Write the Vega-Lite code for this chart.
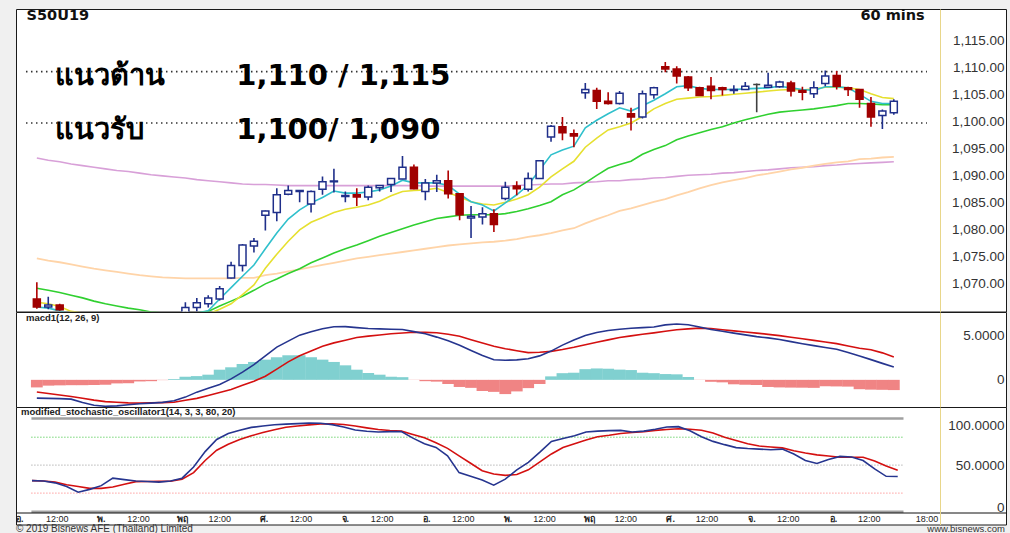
{
  "$schema": "https://vega.github.io/schema/vega-lite/v6.json",
  "background": "#f0f0f0",
  "padding": {"left": 15, "top": 7, "right": 5, "bottom": 0},
  "spacing": 0,
  "bounds": "flush",
  "config": {"view": {"fill": "white", "stroke": "#1a1a1a", "strokeWidth": 1}, "font": "Liberation Sans", "axis": {"labelOverlap": false, "labelSeparation": 0}, "axisY": {"labelOverlap": false}},
  "datasets": {
    "bars": [
      {"i":0,"o":1067.1,"h":1070.2,"l":1065.3,"c":1065.6,"e1":1065.6,"e2":1066.5,"m3":1069.1,"m4":1074.6,"m5":1093.2,"macd":-2.05,"sig":-1.36,"hist":-0.85,"k":33.4,"d":33.4},
      {"i":1,"o":1065.6,"h":1067.5,"l":1065.2,"c":1066.0,"e1":1065.4,"e2":1066.2,"m3":1068.7,"m4":1074.2,"m5":1092.8,"macd":-2.08,"sig":-1.53,"hist":-0.65,"k":33,"d":33},
      {"i":2,"o":1066.0,"h":1066.2,"l":1064.9,"c":1065.1,"e1":1064.9,"e2":1065.7,"m3":1068.3,"m4":1073.9,"m5":1092.5,"macd":-2.11,"sig":-1.70,"hist":-0.62,"k":31,"d":31.8},
      {"i":3,"o":1064.5,"h":1064.6,"l":1063.2,"c":1063.5,"e1":1064.3,"e2":1064.8,"m3":1067.8,"m4":1073.5,"m5":1092.1,"macd":-2.17,"sig":-1.87,"hist":-0.60,"k":27,"d":29},
      {"i":4,"o":1063.5,"h":1064.2,"l":1062.0,"c":1062.5,"e1":1063.9,"e2":1064.5,"m3":1067.3,"m4":1073.1,"m5":1091.8,"macd":-2.55,"sig":-2.07,"hist":-0.60,"k":21,"d":27},
      {"i":5,"o":1062.5,"h":1063.5,"l":1061.8,"c":1063.0,"e1":1063.5,"e2":1064.2,"m3":1066.7,"m4":1072.7,"m5":1091.5,"macd":-2.86,"sig":-2.28,"hist":-0.58,"k":24,"d":25.1},
      {"i":6,"o":1063.0,"h":1063.8,"l":1062.0,"c":1062.4,"e1":1063.2,"e2":1063.9,"m3":1066.2,"m4":1072.4,"m5":1091.2,"macd":-2.97,"sig":-2.45,"hist":-0.55,"k":28,"d":25.1},
      {"i":7,"o":1062.4,"h":1064.0,"l":1062.2,"c":1063.6,"e1":1063.0,"e2":1063.7,"m3":1065.8,"m4":1072.1,"m5":1090.9,"macd":-2.92,"sig":-2.52,"hist":-0.40,"k":36,"d":26.5},
      {"i":8,"o":1063.6,"h":1064.2,"l":1062.8,"c":1063.2,"e1":1063.0,"e2":1063.5,"m3":1065.4,"m4":1071.8,"m5":1090.7,"macd":-2.79,"sig":-2.59,"hist":-0.38,"k":34.5,"d":29.5},
      {"i":9,"o":1063.2,"h":1063.9,"l":1062.6,"c":1063.0,"e1":1063.0,"e2":1063.4,"m3":1065.1,"m4":1071.5,"m5":1090.4,"macd":-2.69,"sig":-2.61,"hist":-0.18,"k":33,"d":32.3},
      {"i":10,"o":1063.0,"h":1063.8,"l":1062.5,"c":1063.4,"e1":1063.1,"e2":1063.3,"m3":1064.7,"m4":1071.3,"m5":1090.1,"macd":-2.61,"sig":-2.58,"hist":-0.15,"k":32.5,"d":32.5},
      {"i":11,"o":1063.4,"h":1064.0,"l":1062.9,"c":1063.2,"e1":1063.1,"e2":1063.3,"m3":1064.5,"m4":1071.1,"m5":1089.9,"macd":-2.53,"sig":-2.56,"hist":-0.03,"k":31.8,"d":32.6},
      {"i":12,"o":1063.2,"h":1064.3,"l":1062.9,"c":1064.0,"e1":1063.3,"e2":1063.4,"m3":1064.4,"m4":1071.0,"m5":1089.7,"macd":-2.35,"sig":-2.52,"hist":0.09,"k":33,"d":32.7},
      {"i":13,"o":1064.0,"h":1066.5,"l":1063.5,"c":1065.5,"e1":1064.2,"e2":1063.6,"m3":1064.4,"m4":1070.9,"m5":1089.5,"macd":-1.94,"sig":-2.29,"hist":0.35,"k":36,"d":35},
      {"i":14,"o":1065.5,"h":1067.3,"l":1064.8,"c":1066.4,"e1":1064.5,"e2":1064.0,"m3":1064.5,"m4":1070.9,"m5":1089.2,"macd":-1.38,"sig":-2.08,"hist":0.42,"k":48,"d":42},
      {"i":15,"o":1066.2,"h":1067.8,"l":1065.5,"c":1067.3,"e1":1064.9,"e2":1064.3,"m3":1064.8,"m4":1070.9,"m5":1089.0,"macd":-0.94,"sig":-1.76,"hist":0.58,"k":64.5,"d":55},
      {"i":16,"o":1067.1,"h":1069.5,"l":1066.8,"c":1069.0,"e1":1067.1,"e2":1065.2,"m3":1065.8,"m4":1070.9,"m5":1088.8,"macd":-0.52,"sig":-1.43,"hist":1.14,"k":77.5,"d":66},
      {"i":17,"o":1071.0,"h":1074.0,"l":1070.9,"c":1073.3,"e1":1069.2,"e2":1066.2,"m3":1066.7,"m4":1070.9,"m5":1088.6,"macd":0.11,"sig":-1.09,"hist":1.41,"k":84,"d":72.5},
      {"i":18,"o":1073.3,"h":1077.3,"l":1072.2,"c":1077.1,"e1":1071.3,"e2":1067.9,"m3":1067.6,"m4":1071.0,"m5":1088.4,"macd":0.86,"sig":-0.62,"hist":1.78,"k":87.5,"d":77.5},
      {"i":19,"o":1076.9,"h":1078.4,"l":1075.7,"c":1077.8,"e1":1073.4,"e2":1069.7,"m3":1068.7,"m4":1071.0,"m5":1088.3,"macd":1.71,"sig":-0.15,"hist":2.01,"k":90.5,"d":81.5},
      {"i":20,"o":1082.6,"h":1083.5,"l":1079.8,"c":1083.4,"e1":1076.4,"e2":1072.8,"m3":1069.9,"m4":1071.5,"m5":1088.3,"macd":2.70,"sig":0.41,"hist":2.27,"k":92,"d":85},
      {"i":21,"o":1083.1,"h":1087.6,"l":1081.5,"c":1086.4,"e1":1079.3,"e2":1075.4,"m3":1070.8,"m4":1071.8,"m5":1088.2,"macd":3.68,"sig":1.21,"hist":2.54,"k":93.4,"d":88},
      {"i":22,"o":1086.5,"h":1088.1,"l":1086.3,"c":1087.2,"e1":1081.9,"e2":1077.8,"m3":1071.8,"m4":1072.2,"m5":1088.1,"macd":4.35,"sig":2.02,"hist":2.76,"k":94,"d":90.6},
      {"i":23,"o":1087.0,"h":1087.2,"l":1085.0,"c":1087.2,"e1":1083.6,"e2":1079.9,"m3":1072.7,"m4":1072.6,"m5":1088.1,"macd":5.02,"sig":2.70,"hist":2.76,"k":94.6,"d":92},
      {"i":24,"o":1084.7,"h":1087.2,"l":1083.1,"c":1087.0,"e1":1084.9,"e2":1081.3,"m3":1073.8,"m4":1073.0,"m5":1088.1,"macd":5.39,"sig":3.24,"hist":2.54,"k":95.1,"d":93.2},
      {"i":25,"o":1087.4,"h":1089.8,"l":1086.4,"c":1088.8,"e1":1085.9,"e2":1082.2,"m3":1074.7,"m4":1073.4,"m5":1088.1,"macd":5.73,"sig":3.77,"hist":2.27,"k":95,"d":94.2},
      {"i":26,"o":1088.8,"h":1091.2,"l":1086.8,"c":1088.95,"e1":1087.1,"e2":1083.1,"m3":1075.6,"m4":1073.8,"m5":1088.1,"macd":5.96,"sig":4.15,"hist":2.01,"k":93.5,"d":94.4},
      {"i":27,"o":1086.1,"h":1087.0,"l":1085.0,"c":1086.25,"e1":1086.7,"e2":1083.7,"m3":1076.4,"m4":1074.2,"m5":1088.1,"macd":5.98,"sig":4.45,"hist":1.63,"k":91,"d":93.6},
      {"i":28,"o":1086.4,"h":1087.6,"l":1084.3,"c":1086.0,"e1":1086.7,"e2":1084.1,"m3":1077.1,"m4":1074.6,"m5":1088.1,"macd":5.86,"sig":4.75,"hist":1.14,"k":87.8,"d":92},
      {"i":29,"o":1086.0,"h":1088.1,"l":1085.4,"c":1087.8,"e1":1086.9,"e2":1084.5,"m3":1077.9,"m4":1074.9,"m5":1088.1,"macd":5.76,"sig":4.91,"hist":0.77,"k":86.3,"d":90},
      {"i":30,"o":1087.7,"h":1088.2,"l":1087.0,"c":1088.1,"e1":1087.3,"e2":1085.2,"m3":1078.7,"m4":1075.2,"m5":1088.1,"macd":5.73,"sig":5.04,"hist":0.58,"k":85.6,"d":88.2},
      {"i":31,"o":1088.3,"h":1089.5,"l":1086.9,"c":1089.4,"e1":1088.0,"e2":1086.2,"m3":1079.4,"m4":1075.5,"m5":1088.1,"macd":5.69,"sig":5.17,"hist":0.35,"k":86,"d":87.2},
      {"i":32,"o":1089.3,"h":1093.6,"l":1089.3,"c":1091.5,"e1":1089.1,"e2":1087.0,"m3":1080.1,"m4":1075.8,"m5":1088.1,"macd":5.65,"sig":5.26,"hist":0.30,"k":86,"d":86.5},
      {"i":33,"o":1091.5,"h":1092.0,"l":1087.4,"c":1087.5,"e1":1088.6,"e2":1087.2,"m3":1080.8,"m4":1076.1,"m5":1088.1,"macd":5.42,"sig":5.34,"hist":-0.02,"k":79,"d":83},
      {"i":34,"o":1087.0,"h":1089.3,"l":1085.4,"c":1088.6,"e1":1088.6,"e2":1087.3,"m3":1081.4,"m4":1076.4,"m5":1088.0,"macd":5.17,"sig":5.33,"hist":-0.15,"k":73,"d":79.5},
      {"i":35,"o":1088.6,"h":1090.1,"l":1086.9,"c":1089.0,"e1":1088.6,"e2":1087.6,"m3":1082.0,"m4":1076.7,"m5":1088.0,"macd":4.80,"sig":5.29,"hist":-0.20,"k":69,"d":74},
      {"i":36,"o":1089.0,"h":1090.9,"l":1085.7,"c":1086.6,"e1":1088.1,"e2":1086.8,"m3":1082.3,"m4":1077.0,"m5":1088.0,"macd":4.38,"sig":5.13,"hist":-0.47,"k":60,"d":68},
      {"i":37,"o":1086.6,"h":1086.6,"l":1081.7,"c":1082.7,"e1":1086.5,"e2":1086.0,"m3":1082.6,"m4":1077.2,"m5":1088.0,"macd":3.89,"sig":4.89,"hist":-0.80,"k":42,"d":60},
      {"i":38,"o":1082.1,"h":1084.3,"l":1078.4,"c":1082.4,"e1":1085.1,"e2":1085.1,"m3":1082.7,"m4":1077.4,"m5":1088.0,"macd":3.30,"sig":4.51,"hist":-0.90,"k":38,"d":52},
      {"i":39,"o":1082.3,"h":1084.1,"l":1080.9,"c":1082.9,"e1":1084.5,"e2":1084.7,"m3":1082.7,"m4":1077.6,"m5":1088.0,"macd":2.74,"sig":4.14,"hist":-1.25,"k":34,"d":44},
      {"i":40,"o":1082.9,"h":1083.7,"l":1079.5,"c":1080.9,"e1":1083.4,"e2":1084.5,"m3":1082.7,"m4":1077.7,"m5":1088.0,"macd":2.25,"sig":3.78,"hist":-1.35,"k":28.5,"d":40.5},
      {"i":41,"o":1085.7,"h":1088.8,"l":1085.4,"c":1087.8,"e1":1084.9,"e2":1085.0,"m3":1082.9,"m4":1077.9,"m5":1088.0,"macd":2.20,"sig":3.50,"hist":-1.60,"k":35,"d":39},
      {"i":42,"o":1088.0,"h":1088.9,"l":1086.3,"c":1087.5,"e1":1086.4,"e2":1085.6,"m3":1083.3,"m4":1078.2,"m5":1088.1,"macd":2.24,"sig":3.27,"hist":-1.30,"k":45,"d":40},
      {"i":43,"o":1087.4,"h":1090.5,"l":1087.0,"c":1089.4,"e1":1088.2,"e2":1086.4,"m3":1083.8,"m4":1078.6,"m5":1088.2,"macd":2.36,"sig":3.06,"hist":-0.93,"k":53,"d":45},
      {"i":44,"o":1089.4,"h":1092.8,"l":1089.3,"c":1092.7,"e1":1091.0,"e2":1087.8,"m3":1084.4,"m4":1078.9,"m5":1088.3,"macd":2.69,"sig":3.10,"hist":-0.47,"k":64,"d":53.5},
      {"i":45,"o":1097.1,"h":1099.3,"l":1096.2,"c":1099.1,"e1":1093.8,"e2":1089.7,"m3":1085.1,"m4":1079.3,"m5":1088.4,"macd":3.23,"sig":3.20,"hist":0.39,"k":75.5,"d":62},
      {"i":46,"o":1099.0,"h":1100.8,"l":1096.5,"c":1097.9,"e1":1094.7,"e2":1091.2,"m3":1086.4,"m4":1079.8,"m5":1088.4,"macd":3.90,"sig":3.40,"hist":0.75,"k":78.5,"d":69},
      {"i":47,"o":1097.7,"h":1098.5,"l":1095.2,"c":1097.3,"e1":1095.4,"e2":1092.6,"m3":1087.3,"m4":1080.2,"m5":1088.6,"macd":4.47,"sig":3.66,"hist":0.80,"k":81.5,"d":73},
      {"i":48,"o":1105.3,"h":1107.1,"l":1104.2,"c":1105.9,"e1":1098.8,"e2":1095.2,"m3":1088.6,"m4":1081.1,"m5":1088.7,"macd":4.98,"sig":3.95,"hist":1.20,"k":85.5,"d":77},
      {"i":49,"o":1105.7,"h":1106.2,"l":1102.3,"c":1103.7,"e1":1100.2,"e2":1096.9,"m3":1090.0,"m4":1081.9,"m5":1088.8,"macd":5.32,"sig":4.22,"hist":1.28,"k":86.5,"d":80.5},
      {"i":50,"o":1103.7,"h":1105.4,"l":1103.1,"c":1103.3,"e1":1101.4,"e2":1098.4,"m3":1091.3,"m4":1082.6,"m5":1089.0,"macd":5.54,"sig":4.49,"hist":1.25,"k":87,"d":82},
      {"i":51,"o":1103.3,"h":1105.6,"l":1103.1,"c":1105.2,"e1":1102.5,"e2":1099.0,"m3":1092.0,"m4":1083.4,"m5":1089.0,"macd":5.68,"sig":4.75,"hist":1.15,"k":87.3,"d":84},
      {"i":52,"o":1101.4,"h":1102.5,"l":1098.3,"c":1100.8,"e1":1101.9,"e2":1099.7,"m3":1092.6,"m4":1083.9,"m5":1089.2,"macd":5.79,"sig":4.94,"hist":1.10,"k":85.5,"d":85},
      {"i":53,"o":1100.8,"h":1105.7,"l":1100.5,"c":1105.1,"e1":1102.9,"e2":1100.9,"m3":1093.9,"m4":1084.5,"m5":1089.3,"macd":5.86,"sig":5.12,"hist":0.80,"k":86.5,"d":86},
      {"i":54,"o":1104.9,"h":1106.4,"l":1104.2,"c":1106.2,"e1":1103.9,"e2":1102.3,"m3":1094.8,"m4":1085.1,"m5":1089.5,"macd":5.94,"sig":5.28,"hist":0.75,"k":88.6,"d":87.3},
      {"i":55,"o":1110.1,"h":1111.0,"l":1109.1,"c":1109.7,"e1":1105.1,"e2":1103.3,"m3":1095.5,"m4":1085.6,"m5":1089.6,"macd":6.17,"sig":5.45,"hist":0.65,"k":91,"d":88.2},
      {"i":56,"o":1109.7,"h":1110.2,"l":1107.0,"c":1108.4,"e1":1106.4,"e2":1104.1,"m3":1096.6,"m4":1086.3,"m5":1089.8,"macd":6.27,"sig":5.62,"hist":0.62,"k":91.3,"d":89},
      {"i":57,"o":1108.2,"h":1108.4,"l":1105.6,"c":1106.2,"e1":1106.6,"e2":1104.3,"m3":1097.3,"m4":1086.9,"m5":1090.0,"macd":6.18,"sig":5.72,"hist":0.32,"k":87,"d":88.5},
      {"i":58,"o":1106.2,"h":1106.4,"l":1104.7,"c":1104.8,"e1":1106.1,"e2":1104.5,"m3":1097.9,"m4":1087.6,"m5":1090.1,"macd":5.94,"sig":5.81,"hist":-0.02,"k":80.5,"d":87.5},
      {"i":59,"o":1106.5,"h":1108.2,"l":1104.1,"c":1105.7,"e1":1105.9,"e2":1104.6,"m3":1098.5,"m4":1088.2,"m5":1090.2,"macd":5.65,"sig":5.77,"hist":-0.22,"k":75.5,"d":84.5},
      {"i":60,"o":1106.2,"h":1106.4,"l":1104.8,"c":1105.9,"e1":1105.9,"e2":1104.8,"m3":1099.0,"m4":1088.7,"m5":1090.4,"macd":5.45,"sig":5.63,"hist":-0.28,"k":72,"d":80},
      {"i":61,"o":1105.7,"h":1106.7,"l":1105.1,"c":1105.9,"e1":1105.9,"e2":1105.0,"m3":1099.7,"m4":1089.1,"m5":1090.5,"macd":5.25,"sig":5.50,"hist":-0.50,"k":68.8,"d":76.5},
      {"i":62,"o":1105.9,"h":1107.3,"l":1105.9,"c":1106.5,"e1":1106.0,"e2":1105.2,"m3":1100.3,"m4":1089.5,"m5":1090.7,"macd":5.05,"sig":5.37,"hist":-0.55,"k":67.8,"d":73},
      {"i":63,"o":1106.8,"h":1107.0,"l":1101.7,"c":1106.8,"e1":1106.1,"e2":1105.4,"m3":1100.8,"m4":1090.0,"m5":1090.9,"macd":4.85,"sig":5.25,"hist":-0.58,"k":67.2,"d":70.5},
      {"i":64,"o":1106.3,"h":1109.0,"l":1106.2,"c":1106.7,"e1":1106.2,"e2":1105.6,"m3":1101.3,"m4":1090.3,"m5":1091.0,"macd":4.71,"sig":5.11,"hist":-0.80,"k":66.6,"d":69.5},
      {"i":65,"o":1106.4,"h":1107.5,"l":1106.2,"c":1107.3,"e1":1106.5,"e2":1105.8,"m3":1101.7,"m4":1090.7,"m5":1091.2,"macd":4.54,"sig":4.97,"hist":-0.85,"k":67.2,"d":68.5},
      {"i":66,"o":1107.1,"h":1107.5,"l":1104.6,"c":1105.6,"e1":1106.2,"e2":1105.9,"m3":1101.9,"m4":1091.1,"m5":1091.4,"macd":4.29,"sig":4.78,"hist":-0.87,"k":62,"d":65.5},
      {"i":67,"o":1105.7,"h":1106.4,"l":1103.9,"c":1105.4,"e1":1105.9,"e2":1105.8,"m3":1102.1,"m4":1091.4,"m5":1091.5,"macd":4.06,"sig":4.61,"hist":-0.88,"k":55,"d":63},
      {"i":68,"o":1105.1,"h":1107.4,"l":1104.3,"c":1106.2,"e1":1105.7,"e2":1106.0,"m3":1102.3,"m4":1091.8,"m5":1091.6,"macd":3.84,"sig":4.43,"hist":-0.90,"k":51.8,"d":61},
      {"i":69,"o":1107.0,"h":1109.4,"l":1106.5,"c":1108.4,"e1":1106.4,"e2":1106.3,"m3":1102.6,"m4":1092.1,"m5":1091.8,"macd":3.64,"sig":4.25,"hist":-0.72,"k":56,"d":59.8},
      {"i":70,"o":1108.5,"h":1109.3,"l":1105.9,"c":1106.5,"e1":1106.4,"e2":1106.3,"m3":1102.9,"m4":1092.4,"m5":1091.9,"macd":3.44,"sig":4.07,"hist":-0.74,"k":59.4,"d":58.5},
      {"i":71,"o":1106.2,"h":1106.4,"l":1104.7,"c":1105.9,"e1":1106.2,"e2":1106.2,"m3":1103.3,"m4":1092.6,"m5":1092.1,"macd":3.08,"sig":3.80,"hist":-0.76,"k":58.8,"d":58.5},
      {"i":72,"o":1105.9,"h":1106.0,"l":1102.5,"c":1104.1,"e1":1105.0,"e2":1105.9,"m3":1103.3,"m4":1093.0,"m5":1092.2,"macd":2.67,"sig":3.54,"hist":-1.05,"k":55,"d":58.5},
      {"i":73,"o":1103.3,"h":1104.5,"l":1099.0,"c":1100.8,"e1":1103.7,"e2":1105.1,"m3":1103.2,"m4":1093.1,"m5":1092.3,"macd":2.27,"sig":3.38,"hist":-1.10,"k":46,"d":54.5},
      {"i":74,"o":1101.1,"h":1102.2,"l":1098.6,"c":1101.9,"e1":1103.3,"e2":1104.4,"m3":1103.1,"m4":1093.3,"m5":1092.4,"macd":1.85,"sig":3.03,"hist":-1.12,"k":38,"d":49},
      {"i":75,"o":1101.6,"h":1104.1,"l":1101.2,"c":1103.7,"e1":1103.3,"e2":1104.2,"m3":1103.1,"m4":1093.4,"m5":1092.5,"macd":1.43,"sig":2.56,"hist":-1.15,"k":37.8,"d":44.5}
    ]
  },
  "vconcat": [
    {
      "width": 990,
      "height": 302.5,
      "layer": [
        {
          "data": {"values": [{"lvl": 1109.2}, {"lvl": 1099.7}]},
          "mark": {"type": "rule", "strokeDash": [1.5, 3.5], "strokeWidth": 1.6, "color": "#333333"},
          "encoding": {
            "x": {"datum": -0.95, "type": "quantitative", "scale": {"domain": [-1.386, 84.38], "nice": false, "zero": false}, "axis": null},
            "x2": {"datum": 77.9},
            "y": {"field": "lvl", "type": "quantitative", "scale": {"domain": [1064.78, 1120.8], "nice": false, "zero": false},
                  "axis": {"orient": "right", "offset": -66, "zindex": 1, "values": [1070, 1075, 1080, 1085, 1090, 1095, 1100, 1105, 1110, 1115], "tickCount": 10, "format": ",.2f", "labelAlign": "right", "labelBaseline": "middle", "labelPadding": 64, "ticks": false, "tickSize": 0, "grid": false, "domain": true, "domainColor": "#e8d68a", "labelFont": "Liberation Sans", "labelFontSize": 13.5, "labelColor": "#333333", "title": null, "labelOverlap": false, "labelSeparation": 0, "labelBound": false}}
          }
        },
        {
          "data": {"name": "bars"},
          "mark": {"type": "line", "color": "#d8a0d8", "strokeWidth": 1.6, "clip": true},
          "encoding": {
            "x": {"field": "i", "type": "quantitative", "scale": {"domain": [-1.386, 84.38], "nice": false, "zero": false}, "axis": null},
            "y": {"field": "m5", "type": "quantitative", "scale": {"domain": [1064.78, 1120.8], "nice": false, "zero": false}}
          }
        },
        {
          "data": {"name": "bars"},
          "mark": {"type": "line", "color": "#ffd4a8", "strokeWidth": 1.8, "clip": true},
          "encoding": {
            "x": {"field": "i", "type": "quantitative", "scale": {"domain": [-1.386, 84.38], "nice": false, "zero": false}, "axis": null},
            "y": {"field": "m4", "type": "quantitative", "scale": {"domain": [1064.78, 1120.8], "nice": false, "zero": false}}
          }
        },
        {
          "data": {"name": "bars"},
          "mark": {"type": "line", "color": "#30d030", "strokeWidth": 1.6, "clip": true},
          "encoding": {
            "x": {"field": "i", "type": "quantitative", "scale": {"domain": [-1.386, 84.38], "nice": false, "zero": false}, "axis": null},
            "y": {"field": "m3", "type": "quantitative", "scale": {"domain": [1064.78, 1120.8], "nice": false, "zero": false}}
          }
        },
        {
          "data": {"name": "bars"},
          "mark": {"type": "line", "color": "#e6e030", "strokeWidth": 1.6, "clip": true},
          "encoding": {
            "x": {"field": "i", "type": "quantitative", "scale": {"domain": [-1.386, 84.38], "nice": false, "zero": false}, "axis": null},
            "y": {"field": "e2", "type": "quantitative", "scale": {"domain": [1064.78, 1120.8], "nice": false, "zero": false}}
          }
        },
        {
          "data": {"name": "bars"},
          "mark": {"type": "line", "color": "#30c0cc", "strokeWidth": 1.6, "clip": true},
          "encoding": {
            "x": {"field": "i", "type": "quantitative", "scale": {"domain": [-1.386, 84.38], "nice": false, "zero": false}, "axis": null},
            "y": {"field": "e1", "type": "quantitative", "scale": {"domain": [1064.78, 1120.8], "nice": false, "zero": false}}
          }
        },
        {
          "data": {"name": "bars"},
          "mark": {"type": "rule", "strokeWidth": 1.6, "clip": true},
          "encoding": {
            "x": {"field": "i", "type": "quantitative", "scale": {"domain": [-1.386, 84.38], "nice": false, "zero": false}, "axis": null},
            "y": {"field": "l", "type": "quantitative", "scale": {"domain": [1064.78, 1120.8], "nice": false, "zero": false}},
            "y2": {"field": "h"},
            "color": {"condition": [{"test": "datum.c == datum.o", "value": "#404040"}, {"test": "datum.c > datum.o", "value": "#1f2f8a"}], "value": "#b00000"}
          }
        },
        {
          "data": {"name": "bars"},
          "mark": {"type": "bar", "size": 7, "strokeWidth": 1.5, "clip": true},
          "encoding": {
            "x": {"field": "i", "type": "quantitative", "scale": {"domain": [-1.386, 84.38], "nice": false, "zero": false}, "axis": null},
            "y": {"field": "o", "type": "quantitative", "scale": {"domain": [1064.78, 1120.8], "nice": false, "zero": false}},
            "y2": {"field": "c"},
            "fill": {"condition": [{"test": "datum.c == datum.o", "value": "#404040"}, {"test": "datum.c > datum.o", "value": "#ffffff"}], "value": "#a00000"},
            "stroke": {"condition": [{"test": "datum.c == datum.o", "value": "#404040"}, {"test": "datum.c > datum.o", "value": "#1f2f8a"}], "value": "#a00000"}
          }
        },
        {
          "data": {"values": [{"t": "S50U19"}]},
          "mark": {"type": "text", "align": "left", "baseline": "middle", "font": "DejaVu Sans", "fontWeight": "bold", "fontSize": 14.5, "color": "#111111"},
          "encoding": {
            "x": {"datum": -0.9, "type": "quantitative", "scale": {"domain": [-1.386, 84.38], "nice": false, "zero": false}, "axis": null},
            "y": {"datum": 1119.56, "type": "quantitative", "scale": {"domain": [1064.78, 1120.8], "nice": false, "zero": false}},
            "text": {"field": "t"}
          }
        },
        {
          "data": {"values": [{"t": "60 mins"}]},
          "mark": {"type": "text", "align": "right", "baseline": "middle", "font": "DejaVu Sans", "fontWeight": "bold", "fontSize": 14.5, "color": "#111111"},
          "encoding": {
            "x": {"datum": 77.7, "type": "quantitative", "scale": {"domain": [-1.386, 84.38], "nice": false, "zero": false}, "axis": null},
            "y": {"datum": 1119.56, "type": "quantitative", "scale": {"domain": [1064.78, 1120.8], "nice": false, "zero": false}},
            "text": {"field": "t"}
          }
        },
        {
          "data": {"values": [{"t": "แนวต้าน", "p": 1106.67, "x": 1.55}, {"t": "1,110 / 1,115", "p": 1106.67, "x": 17.45}, {"t": "แนวรับ", "p": 1096.78, "x": 1.55}, {"t": "1,100/ 1,090", "p": 1096.78, "x": 17.45}]},
          "mark": {"type": "text", "align": "left", "baseline": "alphabetic", "font": "DejaVu Sans", "fontWeight": "bold", "fontSize": 29, "color": "#000000"},
          "encoding": {
            "x": {"field": "x", "type": "quantitative", "scale": {"domain": [-1.386, 84.38], "nice": false, "zero": false}, "axis": null},
            "y": {"field": "p", "type": "quantitative", "scale": {"domain": [1064.78, 1120.8], "nice": false, "zero": false}},
            "text": {"field": "t"}
          }
        }
      ]
    },
    {
      "width": 990,
      "height": 95,
      "layer": [
        {
          "data": {"name": "bars"},
          "mark": {"type": "bar", "size": 11.8, "clip": true},
          "encoding": {
            "x": {"field": "i", "type": "quantitative", "scale": {"domain": [-1.386, 84.38], "nice": false, "zero": false}, "axis": null},
            "y": {"field": "hist", "type": "quantitative", "scale": {"domain": [-3.05, 7.62], "nice": false, "zero": false},
                  "axis": {"orient": "right", "offset": -66, "zindex": 1, "values": [0, 5], "labelExpr": "datum.value == 0 ? '0' : format(datum.value, '.4f')", "labelAlign": "right", "labelBaseline": "middle", "labelPadding": 64, "ticks": false, "tickSize": 0, "grid": false, "domain": true, "domainColor": "#e8d68a", "labelFont": "Liberation Sans", "labelFontSize": 13.5, "labelColor": "#333333", "title": null, "labelOverlap": false}},
            "y2": {"datum": 0},
            "color": {"condition": {"test": "datum.hist >= 0", "value": "#80d0d0"}, "value": "#f08484"}
          }
        },
        {
          "data": {"name": "bars"},
          "mark": {"type": "line", "color": "#d41010", "strokeWidth": 1.6, "clip": true},
          "encoding": {
            "x": {"field": "i", "type": "quantitative", "scale": {"domain": [-1.386, 84.38], "nice": false, "zero": false}, "axis": null},
            "y": {"field": "sig", "type": "quantitative", "scale": {"domain": [-3.05, 7.62], "nice": false, "zero": false}}
          }
        },
        {
          "data": {"name": "bars"},
          "mark": {"type": "line", "color": "#26358f", "strokeWidth": 1.6, "clip": true},
          "encoding": {
            "x": {"field": "i", "type": "quantitative", "scale": {"domain": [-1.386, 84.38], "nice": false, "zero": false}, "axis": null},
            "y": {"field": "macd", "type": "quantitative", "scale": {"domain": [-3.05, 7.62], "nice": false, "zero": false}}
          }
        },
        {
          "data": {"values": [{"t": "macd1(12, 26, 9)"}]},
          "mark": {"type": "text", "align": "left", "baseline": "middle", "font": "Liberation Sans", "fontWeight": "bold", "fontSize": 9.5, "color": "#222222"},
          "encoding": {
            "x": {"datum": -0.95, "type": "quantitative", "scale": {"domain": [-1.386, 84.38], "nice": false, "zero": false}, "axis": null},
            "y": {"datum": 7.0, "type": "quantitative", "scale": {"domain": [-3.05, 7.62], "nice": false, "zero": false}},
            "text": {"field": "t"}
          }
        }
      ]
    },
    {
      "width": 990,
      "height": 117.5,
      "layer": [
        {
          "data": {"values": [{"lvl": 100}, {"lvl": 0}]},
          "mark": {"type": "rule", "color": "#a0a0a0", "strokeWidth": 2.5},
          "encoding": {
            "x": {"datum": -0.05, "type": "quantitative", "scale": {"domain": [-1.386, 84.38], "nice": false, "zero": false},
                  "axis": {"orient": "bottom", "offset": -12, "zindex": 1, "values": [-1.1, 2.15, 5.949, 9.185, 12.998, 16.22, 20.047, 23.255, 27.096, 30.29, 34.145, 37.325, 41.194, 44.36, 48.243, 51.395, 55.292, 58.43, 62.341, 65.465, 69.39, 72.5, 77.5],
                           "labelExpr": "datum.value > 77 ? '18:00' : (abs((datum.value + 1.1) / 7.049 - round((datum.value + 1.1) / 7.049)) < 0.1 ? ['อ.', 'พ.', 'พฤ', 'ศ.', 'จ.'][round((datum.value + 1.1) / 7.049) % 5] : '12:00')",
                           "labelFontWeight": {"condition": {"test": "datum.value < 77 && abs((datum.value + 1.1) / 7.049 - round((datum.value + 1.1) / 7.049)) < 0.1", "value": "bold"}, "value": "normal"},
                           "labelFlush": false, "labelOverlap": false, "labelPadding": 2, "labelBaseline": "top", "labelFont": "Liberation Sans", "labelFontSize": 9, "labelColor": "#222222", "ticks": false, "tickSize": 0, "grid": false, "domain": true, "domainColor": "#111111", "title": null}},
            "x2": {"datum": 75.5},
            "y": {"field": "lvl", "type": "quantitative", "scale": {"domain": [-13.7, 112.4], "nice": false, "zero": false},
                  "axis": {"orient": "right", "offset": -66, "zindex": 1, "values": [0, 50, 100], "labelExpr": "datum.value == 0 ? '0' : format(datum.value, '.4f')", "labelAlign": "right", "labelBaseline": {"condition": [{"test": "datum.value == 100", "value": "top"}, {"test": "datum.value == 0", "value": "alphabetic"}], "value": "middle"}, "labelPadding": 64, "ticks": false, "tickSize": 0, "grid": false, "domain": true, "domainColor": "#e8d68a", "labelFont": "Liberation Sans", "labelFontSize": 13.5, "labelColor": "#333333", "title": null, "labelOverlap": false}}
          }
        },
        {
          "data": {"values": [{"lvl": 80}]},
          "mark": {"type": "rule", "color": "#30c030", "strokeWidth": 1, "strokeDash": [1, 2]},
          "encoding": {
            "x": {"datum": -0.05, "type": "quantitative", "scale": {"domain": [-1.386, 84.38], "nice": false, "zero": false}},
            "x2": {"datum": 75.5},
            "y": {"field": "lvl", "type": "quantitative", "scale": {"domain": [-13.7, 112.4], "nice": false, "zero": false}}
          }
        },
        {
          "data": {"values": [{"lvl": 50}]},
          "mark": {"type": "rule", "color": "#a8a8a8", "strokeWidth": 1.2, "strokeDash": [1, 2]},
          "encoding": {
            "x": {"datum": -0.05, "type": "quantitative", "scale": {"domain": [-1.386, 84.38], "nice": false, "zero": false}},
            "x2": {"datum": 75.5},
            "y": {"field": "lvl", "type": "quantitative", "scale": {"domain": [-13.7, 112.4], "nice": false, "zero": false}}
          }
        },
        {
          "data": {"values": [{"lvl": 20}]},
          "mark": {"type": "rule", "color": "#ff7070", "strokeWidth": 1, "strokeDash": [1, 2]},
          "encoding": {
            "x": {"datum": -0.05, "type": "quantitative", "scale": {"domain": [-1.386, 84.38], "nice": false, "zero": false}},
            "x2": {"datum": 75.5},
            "y": {"field": "lvl", "type": "quantitative", "scale": {"domain": [-13.7, 112.4], "nice": false, "zero": false}}
          }
        },
        {
          "data": {"name": "bars"},
          "mark": {"type": "line", "color": "#d41010", "strokeWidth": 1.6, "clip": true},
          "encoding": {
            "x": {"field": "i", "type": "quantitative", "scale": {"domain": [-1.386, 84.38], "nice": false, "zero": false}},
            "y": {"field": "d", "type": "quantitative", "scale": {"domain": [-13.7, 112.4], "nice": false, "zero": false}}
          }
        },
        {
          "data": {"name": "bars"},
          "mark": {"type": "line", "color": "#26358f", "strokeWidth": 1.6, "clip": true},
          "encoding": {
            "x": {"field": "i", "type": "quantitative", "scale": {"domain": [-1.386, 84.38], "nice": false, "zero": false}},
            "y": {"field": "k", "type": "quantitative", "scale": {"domain": [-13.7, 112.4], "nice": false, "zero": false}}
          }
        },
        {
          "data": {"values": [{"t": "modified_stochastic_oscillator1(14, 3, 3, 80, 20)"}]},
          "mark": {"type": "text", "align": "left", "baseline": "middle", "font": "Liberation Sans", "fontWeight": "bold", "fontSize": 9.5, "color": "#222222"},
          "encoding": {
            "x": {"datum": -0.95, "type": "quantitative", "scale": {"domain": [-1.386, 84.38], "nice": false, "zero": false}},
            "y": {"datum": 106.5, "type": "quantitative", "scale": {"domain": [-13.7, 112.4], "nice": false, "zero": false}},
            "text": {"field": "t"}
          }
        },
        {
          "data": {"values": [{"t": "© 2019 Bisnews AFE (Thailand) Limited"}]},
          "mark": {"type": "text", "align": "left", "baseline": "middle", "font": "Liberation Sans", "fontSize": 10, "color": "#333333"},
          "encoding": {
            "x": {"datum": -1.39, "type": "quantitative", "scale": {"domain": [-1.386, 84.38], "nice": false, "zero": false}},
            "y": {"datum": -18.6, "type": "quantitative", "scale": {"domain": [-13.7, 112.4], "nice": false, "zero": false}},
            "text": {"field": "t"}
          }
        },
        {
          "data": {"values": [{"t": "www.bisnews.com"}]},
          "mark": {"type": "text", "align": "right", "baseline": "middle", "font": "Liberation Sans", "fontSize": 9.5, "color": "#333333"},
          "encoding": {
            "x": {"datum": 84.29, "type": "quantitative", "scale": {"domain": [-1.386, 84.38], "nice": false, "zero": false}},
            "y": {"datum": -18.6, "type": "quantitative", "scale": {"domain": [-13.7, 112.4], "nice": false, "zero": false}},
            "text": {"field": "t"}
          }
        }
      ]
    }
  ]
}
